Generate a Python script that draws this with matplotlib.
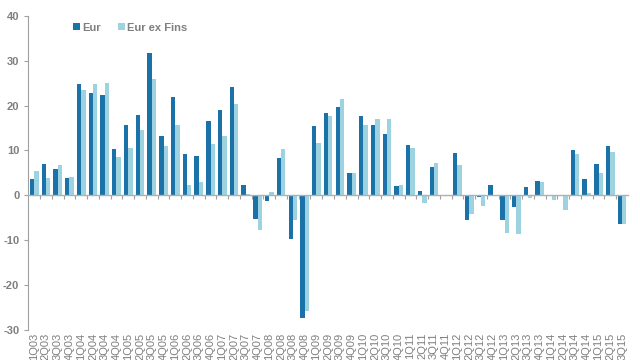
import numpy as np
import matplotlib.pyplot as plt

plt.rcParams['font.family'] = ['Liberation Sans', 'DejaVu Sans']
plt.rcParams['axes.unicode_minus'] = False

# quarters 1Q03 .. 3Q15
quarters = [f"{q}Q{y:02d}" for y in range(3, 16) for q in range(1, 5)][:51]

eur = [3.7, 6.9, 5.9, 3.9,
       24.9, 22.9, 22.4, 10.3,
       15.6, 18.0, 31.6, 13.3,
       22.0, 9.3, 8.8, 16.5,
       18.9, 24.1, 2.3, -5.2,
       -1.3, 8.3, -9.7, -27.4,
       15.4, 18.3, 19.7, 5.0,
       17.6, 15.6, 13.7, 2.0,
       11.1, 1.0, 6.3, 0.0,
       9.5, -5.5, -0.3, 2.2,
       -5.5, -2.6, 1.8, 3.2,
       0.0, 0.0, 10.1, 3.6,
       7.0, 11.0, -6.4]

eur_ex_fins = [5.4, 3.9, 6.8, 4.1,
               23.4, 24.9, 25.1, 8.6,
               10.5, 14.5, 25.9, 11.0,
               15.6, 2.4, 2.9, 11.4,
               13.3, 20.4, 0.3, -7.8,
               0.7, 10.3, -5.5, -25.8,
               11.6, 17.6, 21.4, 5.0,
               15.6, 17.1, 17.1, 2.3,
               10.6, -1.7, 7.2, 0.0,
               6.7, -4.2, -2.4, 0.0,
               -8.3, -8.6, -0.7, 2.9,
               -1.0, -3.3, 9.1, 0.6,
               4.9, 9.6, -6.3]

dark = '#1a72a8'
light = '#9dd3e1'
grey = '#7f7f7f'

fig = plt.figure(figsize=(6.4, 3.6), dpi=100)
ax = fig.add_axes([0.0442, 0.0833, 0.937, 0.873])

x = np.arange(len(quarters))
w = 0.37
ax.bar(x - w / 2, eur, w, color=dark, label='Eur', zorder=2)
ax.bar(x + w / 2, eur_ex_fins, w, color=light, label='Eur ex Fins', zorder=2)

ax.set_xlim(-0.5, len(quarters) - 0.5)
ax.set_ylim(-30, 40)
ax.set_yticks(range(-30, 41, 10))
ax.tick_params(axis='y', colors='#a0a0a0', labelcolor=grey, length=3, width=0.8,
               labelsize=8)
for t in ax.get_yticklabels():
    t.set_fontweight('bold')

for s in ['top', 'right']:
    ax.spines[s].set_visible(False)
ax.spines['left'].set_color('#a0a0a0')
ax.spines['bottom'].set_position(('data', 0))
ax.spines['bottom'].set_color('#b0b0b0')
ax.spines['bottom'].set_linewidth(1.0)
ax.spines['bottom'].set_zorder(3)

# tick marks between categories on the zero line
ax.set_xticks(x[1:] - 0.5, minor=True)
ax.set_xticks([])
ax.tick_params(axis='x', which='minor', length=3, width=0.8, color='#a0a0a0')

# labels along the bottom of the axes
sec = ax.secondary_xaxis(0)
sec.set_xticks(x, quarters, rotation=90)
sec.tick_params(length=0, pad=2, labelsize=8, labelcolor=grey)
sec.spines['bottom'].set_visible(False)

leg = ax.legend(loc='upper left', bbox_to_anchor=(0.058, 1.01), ncol=2, frameon=False,
                handlelength=0.6, handleheight=0.6, handletextpad=0.2,
                columnspacing=1.6, fontsize=8)
for t in leg.get_texts():
    t.set_color(grey)
    t.set_fontweight('bold')

fig.savefig('out.png', dpi=100)
